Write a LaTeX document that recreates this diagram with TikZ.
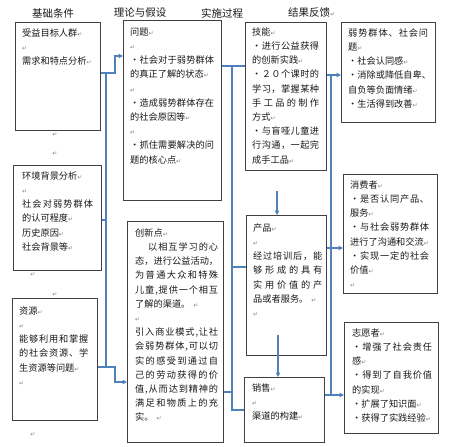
\documentclass[tikz,border=0pt]{standalone}
\usepackage{fontspec}
\setmainfont{Noto Sans CJK SC}
\newfontfamily\dejavu{DejaVu Sans}
\usetikzlibrary{arrows.meta}
\setlength{\parindent}{0pt}
\definecolor{conncol}{HTML}{4F81BD}
\definecolor{boxcol}{HTML}{404040}
\newcommand\rtm{{\dejavu\fontsize{6}{6}\selectfont\textcolor{black!50}{↵}}}
\makeatletter
\def\jl#1{\leavevmode\hbox to\hsize{\jl@a#1\jl@end}}
\def\jlind#1{\leavevmode\hbox to\hsize{\kern13pt\jl@a#1\jl@end}}
\def\jl@a#1{#1\jl@b}
\def\jl@b#1{\ifx\jl@end#1\else\hfil#1\expandafter\jl@b\fi}
\def\jl@end{}
\makeatother
\tikzset{
  boxn/.style={draw=boxcol, line width=0.8pt, anchor=north west, inner sep=0pt, fill=white},
  txt/.style={anchor=north west, inner sep=0pt, align=left, font=\fontsize{9.2}{14.2}\selectfont, text=black!90},
  conn/.style={draw=conncol, line width=1.1pt},
  arr/.style={conn, -{Triangle[length=4.5pt,width=4.5pt]}},
  hdr/.style={inner sep=0pt, font=\fontsize{10.5}{12}\selectfont, text=black!90},
  rmk/.style={inner sep=0pt}
}
\begin{document}
\begin{tikzpicture}[x=1pt,y=-1pt]
\useasboundingbox (0,0) rectangle (450,447);
% headers
\node[hdr] (h1) at (53,13) {基础条件};
\node[hdr] (h2) at (140,13) {理论与假设};
\node[hdr] (h3) at (222,13) {实施过程};
\node[hdr,anchor=west] (h4) at (288,13) {结果反馈\rtm};
% boxes
\node[boxn, minimum width=85pt, minimum height=108pt] (A) at (15,22) {};
\node[boxn, minimum width=88pt, minimum height=105pt] (B) at (13,165) {};
\node[boxn, minimum width=85pt, minimum height=122pt] (C) at (12,298) {};
\node[boxn, minimum width=98pt, minimum height=180pt] (D) at (123,20) {};
\node[boxn, minimum width=96pt, minimum height=221pt] (E) at (127,221) {};
\node[boxn, minimum width=81pt, minimum height=148pt] (F) at (245,22) {};
\node[boxn, minimum width=80pt, minimum height=140pt] (G) at (246,215) {};
\node[boxn, minimum width=80pt, minimum height=65pt] (H) at (244,377) {};
\node[boxn, minimum width=94pt, minimum height=100pt] (I) at (341,22) {};
\node[boxn, minimum width=94pt, minimum height=119pt] (J) at (343,174) {};
\node[boxn, minimum width=94pt, minimum height=111pt] (K) at (344,322) {};
% coordinates
\coordinate (kA) at (115,73);
\coordinate (kAD) at (115,56);
\coordinate (b1t) at (106,73);
\coordinate (b1b) at (106,367);
\coordinate (kB) at (106,220);
\coordinate (kC) at (115,367);
\coordinate (kCE) at (115,382);
\coordinate (b2t) at (232,66);
\coordinate (b2b) at (232,410);
\coordinate (kE) at (232,392);
\coordinate (kG) at (232,267);
\coordinate (fg) at (277,191);
\coordinate (gh) at (278,335);
\coordinate (kI) at (331,75);
\coordinate (kJ) at (331,248);
\coordinate (kK) at (331,395);
% connectors
\draw[arr] (A.east |- kA) -- (kA) -- (kAD) -- (D.west |- kAD);
\draw[conn] (b1t) -- (b1b);
\draw[conn] (B.east |- kB) -- (kB);
\draw[arr] (C.east |- kC) -- (kC) -- (kCE) -- (E.west |- kCE);
\draw[conn] (D.east |- b2t) -- (F.west |- b2t);
\draw[conn] (b2t) -- (b2b) -- (H.west |- b2b);
\draw[conn] (E.east |- kE) -- (kE);
\draw[conn] (kG) -- (G.west |- kG);
\draw[arr] (fg) -- (fg |- G.north);
\draw[arr] (gh) -- (gh |- H.north);
\draw[arr] (F.east |- kI) -- (I.west |- kI);
\draw[arr] (G.east |- kJ) -- (J.west |- kJ);
\draw[arr] (H.east |- kK) -- (K.west |- kK);
\draw[conn] (kI) -- (kK);
% texts
\node[txt, text width=70pt] (tA) at (22,28.4) {受益目标人群\rtm\\ \rtm\\ 需求和特点分析\rtm};
\node[txt, text width=71pt] (tB) at (22,171.4) {环境背景分析\rtm\\ \rtm\\ \jl{社会对弱势群体}\\ 的认可程度\rtm\\ 历史原因\rtm\\ 社会背景等\rtm};
\node[txt, text width=69pt] (tC) at (19,306.4) {资源\rtm\\ \rtm\\ \jl{能够利用和掌握}\\ \jl{的社会资源、学}\\ 生资源等问题\rtm\\ \rtm};
\node[txt, text width=84pt] (tD) at (130,27.4) {问题\rtm\\ \rtm\\ \jl{・社会对于弱势群体}\\ 的真正了解的状态\rtm\\ \rtm\\ \jl{・造成弱势群体存在}\\ 的社会原因等\rtm\\ \rtm\\ \jl{・抓住需要解决的问}\\ 题的核心点\rtm};
\node[txt, text width=83pt] (tE) at (135,228.4) {创新点\rtm\\ \jlind{以相互学习的心}\\ \jl{态，进行公益活动，}\\ \jl{为普通大众和特殊}\\ \jl{儿童,提供一个相互}\\ 了解的渠道。 \rtm\\ \rtm\\ \jl{引入商业模式,让社}\\ \jl{会弱势群体,可以切}\\ \jl{实的感受到通过自}\\ \jl{己的劳动获得的价}\\ \jl{值,从而达到精神的}\\ \jl{满足和物质上的充}\\ 实。 \rtm};
\node[txt, text width=67pt] (tF) at (252,27.4) {技能\rtm\\ \jl{・进行公益获得}\\ 的创新实践\rtm\\ \jl{・２０个课时的}\\ \jl{学习，掌握某种}\\ \jl{手工品的制作}\\ 方式\rtm\\ \jl{・与盲哑儿童进}\\ \jl{行沟通，一起完}\\ 成手工品\rtm};
\node[txt, text width=69pt] (tG) at (253,223.4) {产品\rtm\\ \rtm\\ \jl{经过培训后，能}\\ \jl{够形成的具有}\\ \jl{实用价值的产}\\ 品或者服务。 \rtm\\ \rtm};
\node[txt, text width=66pt] (tH) at (252,383.4) {销售\rtm\\ \rtm\\ 渠道的构建\rtm};
\node[txt, text width=80pt] (tI) at (348,28.4) {\jl{弱势群体、社会问}\\ 题\rtm\\ ・社会认同感\rtm\\ ・消除或降低自卑、\\ 自负等负面情绪\rtm\\ ・生活得到改善\rtm};
\node[txt, text width=79pt] (tJ) at (350,180.4) {消费者\rtm\\ \jl{・是否认同产品、}\\ 服务\rtm\\ \jl{・与社会弱势群体}\\ 进行了沟通和交流\rtm\\ \jl{・实现一定的社会}\\ 价值\rtm\\ \rtm};
\node[txt, text width=80pt] (tK) at (352,328.4) {志愿者\rtm\\ \jl{・增强了社会责任}\\ 感\rtm\\ \jl{・得到了自我价值}\\ 的实现\rtm\\ ・扩展了知识面\rtm\\ ・获得了实践经验\rtm};
% stray paragraph marks
\node[rmk] (m1) at (55,135) {\rtm};
\node[rmk] (m2) at (55,154) {\rtm};
\node[rmk] (m3) at (33,275) {\rtm};
\node[rmk] (m4) at (55,295) {\rtm};
\node[rmk] (m5) at (33,435) {\rtm};
\end{tikzpicture}
\end{document}
